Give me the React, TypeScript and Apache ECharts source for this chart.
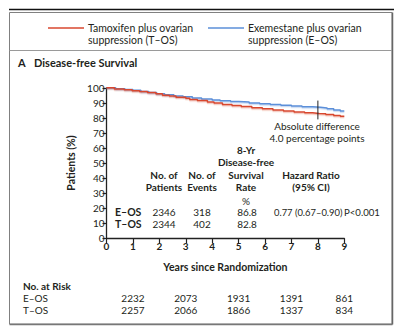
import React, { useEffect, useRef } from "react";
import * as echarts from "echarts";

const eosTimes = [0, 0.35, 0.7, 1.0, 1.3, 1.6, 1.9, 2.2, 2.55, 2.9, 3.25, 3.6, 4.0, 4.3, 4.7, 5.0, 5.4, 5.8, 6.2, 6.6, 7.0, 7.4, 7.8, 8.1, 8.35, 8.6, 8.85, 9.0];
const eosValues = [100, 99.4, 98.9, 98.4, 97.6, 96.8, 96.0, 95.4, 94.6, 94.0, 93.3, 92.6, 91.9, 91.4, 90.9, 90.5, 89.9, 89.4, 88.9, 88.4, 87.9, 87.4, 87.0, 86.6, 86.0, 85.3, 84.6, 84.6];
const tosTimes = [0, 0.3, 0.67, 0.97, 1.25, 1.55, 1.87, 2.12, 2.38, 2.63, 3.0, 3.15, 3.44, 3.82, 4.07, 4.39, 4.75, 5.1, 5.5, 5.9, 6.3, 6.7, 7.1, 7.5, 7.8, 8.05, 8.3, 8.6, 8.85, 9.0];
const tosValues = [100, 99.2, 98.7, 98.0, 97.5, 96.9, 96.0, 95.1, 94.5, 93.8, 93.0, 92.3, 91.5, 90.6, 89.9, 88.9, 88.2, 87.5, 86.8, 86.0, 85.3, 84.6, 84.0, 83.4, 83.0, 82.7, 82.2, 81.6, 81.1, 81.1];

const markerX = 8;
const markerRange = [91.5, 79];

const legendLabels = [
  ["Tamoxifen plus ovarian", "suppression (T\u2013OS)"],
  ["Exemestane plus ovarian", "suppression (E\u2013OS)"],
];
const tableHeaders = [
  ["No. of", "Patients"],
  ["No. of", "Events"],
  ["8-Yr", "Disease-free", "Survival", "Rate"],
  ["Hazard Ratio", "(95% CI)"],
];
const groupNames = ["E\u2013OS", "T\u2013OS"];
const patients = ["2346", "2344"];
const events = ["318", "402"];
const survivalRate = ["86.8", "82.8"];
const hazardRatio = "0.77 (0.67\u20130.90)";
const pValue = "P<0.001";

const riskYears = [1, 3, 5, 7, 9];
const eosRisk = [2232, 2073, 1931, 1391, 861];
const tosRisk = [2257, 2066, 1866, 1337, 834];

const RED = "#d8472f";
const BLUE = "#5b8fd9";
const TXT = "#231f20";
const FONT = "Lato";

export default function App() {
  const ref = useRef<HTMLDivElement>(null);
  useEffect(() => {
    const chart = echarts.init(ref.current!, null, { renderer: "svg" });
    const zip = (t: number[], v: number[]) => t.map((x, i) => [x, v[i]]);
    chart.setOption({
      animation: false,
      backgroundColor: "#ffffff",
      grid: { left: 106.5, right: 71.7, top: 87.8, bottom: 89.7, containLabel: false },
      xAxis: {
        type: "value",
        min: 0,
        max: 9,
        interval: 1,
        name: "Years since Randomization",
        nameLocation: "middle",
        nameGap: 23,
        nameTextStyle: { fontFamily: FONT, fontSize: 10.5, fontWeight: "bold", color: TXT },
        axisLine: { lineStyle: { color: "#222", width: 1.3 } },
        axisTick: { length: 5, lineStyle: { color: "#222", width: 1.2 } },
        axisLabel: { margin: 3, fontFamily: FONT, fontSize: 10, fontWeight: "bold", color: TXT },
        splitLine: { show: false },
      },
      yAxis: {
        type: "value",
        min: 0,
        max: 100,
        interval: 10,
        name: "Patients (%)",
        nameLocation: "middle",
        nameGap: 27,
        nameRotate: 90,
        nameTextStyle: { fontFamily: FONT, fontSize: 10.5, fontWeight: "bold", color: TXT },
        axisLine: { show: true, lineStyle: { color: "#222", width: 1.3 } },
        axisTick: { show: true, length: 4, lineStyle: { color: "#222", width: 1.2 } },
        axisLabel: { margin: 2, fontFamily: FONT, fontSize: 10, color: TXT },
        splitLine: { show: false },
      },
      series: [
        {
          type: "line",
          name: "T-OS",
          step: "end",
          showSymbol: false,
          data: zip(tosTimes, tosValues),
          lineStyle: { color: RED, width: 1.5, shadowColor: "rgba(216,71,47,0.35)", shadowOffsetY: 1.2, shadowBlur: 1 },
          z: 3,
        },
        {
          type: "line",
          name: "E-OS",
          step: "end",
          showSymbol: false,
          data: zip(eosTimes, eosValues),
          lineStyle: { color: BLUE, width: 1.5, shadowColor: "rgba(91,143,217,0.35)", shadowOffsetY: 1.2, shadowBlur: 1 },
          z: 2,
        },
        {
          type: "line",
          showSymbol: false,
          data: [[markerX, markerRange[0]], [markerX, markerRange[1]]],
          lineStyle: { color: "#222", width: 1 },
          z: 4,
        },
      ],
    });

    const px = (x: number) => chart.convertToPixel({ xAxisIndex: 0 }, x) as number;
    const txt = (text: string, x: number, y: number, opts: any = {}) => ({
      type: "text",
      x,
      y,
      silent: true,
      style: {
        text,
        fill: TXT,
        fontFamily: FONT,
        fontSize: opts.fontSize ?? 10,
        fontWeight: opts.bold ? "bold" : "normal",
        align: opts.align ?? "left",
        textAlign: opts.align ?? "left",
        verticalAlign: "middle",
        textVerticalAlign: "middle",
      },
    });

    const g: any[] = [];
    g.push({ type: "line", shape: { x1: 9, y1: 9.5, x2: 394, y2: 9.5 }, style: { stroke: "#111", lineWidth: 1.3 } });
    g.push({ type: "rect", shape: { x: 9.5, y: 12.5, width: 382.5, height: 311.5 }, style: { fill: "none", stroke: "#808080", lineWidth: 1 } });
    g.push({ type: "line", shape: { x1: 392.5, y1: 12.5, x2: 392.5, y2: 324.5 }, style: { stroke: "#666", lineWidth: 1.5 } });
    g.push({ type: "line", shape: { x1: 9.5, y1: 324.5, x2: 392.5, y2: 324.5 }, style: { stroke: "#777", lineWidth: 1.5 } });
    g.push({ type: "line", shape: { x1: 9.5, y1: 50.5, x2: 392, y2: 50.5 }, style: { stroke: "#9a9a9a", lineWidth: 1 } });
    g.push({ type: "line", shape: { x1: 48, y1: 28, x2: 84, y2: 28 }, style: { stroke: RED, lineWidth: 1.3 } });
    g.push(txt(legendLabels[0][0], 88, 28, { fontSize: 10.5 }));
    g.push(txt(legendLabels[0][1], 88, 39.5, { fontSize: 10.5 }));
    g.push({ type: "line", shape: { x1: 208, y1: 28, x2: 244, y2: 28 }, style: { stroke: BLUE, lineWidth: 1.3 } });
    g.push(txt(legendLabels[1][0], 248, 28, { fontSize: 10.5 }));
    g.push(txt(legendLabels[1][1], 248, 39.5, { fontSize: 10.5 }));
    g.push(txt("A", 18, 62.5, { fontSize: 11, bold: true }));
    g.push(txt("Disease-free Survival", 34, 62.5, { fontSize: 11, bold: true }));
    g.push(txt("Absolute difference", 317, 125.5, { align: "center" }));
    g.push(txt("4.0 percentage points", 317, 137.5, { align: "center" }));
    const colX = [164, 202, 246, 311];
    tableHeaders.forEach((lines, c) => {
      const bottomY = 187.3;
      lines.forEach((line, i) => {
        const y = bottomY - (lines.length - 1 - i) * 12.6;
        g.push(txt(line, colX[c], y, { align: "center", bold: true }));
      });
    });
    g.push(txt("%", 246, 200.5, { align: "center" }));
    const rowY = [212.3, 223.5];
    groupNames.forEach((nm, r) => {
      g.push(txt(nm, 115, rowY[r], { bold: true, fontSize: 10.5 }));
      g.push(txt(patients[r], colX[0], rowY[r], { align: "center" }));
      g.push(txt(events[r], colX[1], rowY[r], { align: "center" }));
      g.push(txt(survivalRate[r], colX[2] + 1, rowY[r], { align: "center" }));
    });
    g.push(txt(hazardRatio, 274, rowY[0], { fontSize: 9.4 }));
    g.push(txt(pValue, 344, rowY[0], { fontSize: 9.6 }));
    g.push(txt("No. at Risk", 23, 285.7, { bold: true }));
    g.push(txt(groupNames[0], 23, 298.3));
    g.push(txt(groupNames[1], 23, 310));
    riskYears.forEach((yr, i) => {
      const x = px(yr);
      g.push(txt(String(eosRisk[i]), x, 298.3, { align: "center" }));
      g.push(txt(String(tosRisk[i]), x, 310, { align: "center" }));
    });
    chart.setOption({ graphic: g });

    return () => chart.dispose();
  }, []);
  return <div ref={ref} style={{ position: "fixed", left: 0, top: 0, width: 416, height: 328 }} />;
}
